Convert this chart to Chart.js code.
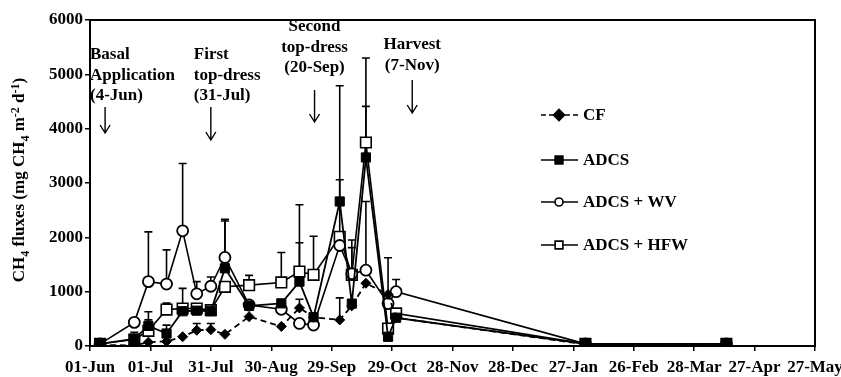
<!DOCTYPE html>
<html>
<head>
<meta charset="utf-8">
<script src="https://cdn.jsdelivr.net/npm/chart.js@4.4.1/dist/chart.umd.min.js"></script>
<style>
  html, body { margin: 0; padding: 0; background: #fff; }
  #wrap { width: 841px; height: 377px; }
</style>
</head>
<body>
<div id="wrap"><canvas id="fluxChart" width="841" height="377"></canvas></div>
<script>
// days since 01-Jun for each sampling
var sampleDays = [5, 22, 29, 38, 46, 53, 60, 67, 79, 95, 104, 111, 124, 130, 137, 148, 152, 246, 316];

var cfValues   = [20, 10, 70, 85, 170, 290, 300, 215, 540, 360, 700, 530, 480, 740, 1155, 950, 520, 30, 40];
var adcsValues = [40, 130, 370, 230, 640, 650, 640, 1430, 740, 785, 1185, 530, 2660, 780, 3470, 170, 520, 40, 40];
var wvValues   = [40, 435, 1185, 1140, 2120, 960, 1100, 1630, 755, 675, 415, 385, 1850, 1330, 1395, 780, 1000, 40, 40];
var hfwValues  = [40, 120, 280, 670, 690, 690, 660, 1090, 1120, 1170, 1370, 1310, 2010, 1310, 3745, 320, 600, 40, 40];

// top of the error bars (null = none drawn)
var cfErrTop   = [null, null, null, null, null, 415, 415, null, null, null, 860, null, 885, null, null, null, null, null, null];
var adcsErrTop = [null, null, 630, 385, null, null, null, 2300, null, null, 1900, null, 4790, null, 4410, null, null, null, null];
var wvErrTop   = [null, null, 2100, 1770, 3360, 1185, 1270, 2330, null, null, null, null, null, 1810, 2660, 1625, 1225, null, null];
var hfwErrTop  = [null, 250, 480, 790, 1060, null, null, null, 1300, 1720, 2600, 2020, 3060, 1950, 5300, null, null, null, null];

var tickLabels = ['01-Jun', '01-Jul', '31-Jul', '30-Aug', '29-Sep', '29-Oct', '28-Nov', '28-Dec', '27-Jan', '26-Feb', '28-Mar', '27-Apr', '27-May'];

var eventDays  = [7.5, 60, 111.5, 160];
var eventTexts = [
  ['Basal', 'Application', '(4-Jun)'],
  ['First', 'top-dress', '(31-Jul)'],
  ['Second', 'top-dress', '(20-Sep)'],
  ['Harvest', '(7-Nov)']
];

var seriesNames = ['CF', 'ADCS', 'ADCS + WV', 'ADCS + HFW'];

var FONT = "'Liberation Serif', 'Times New Roman', serif";

function toPoints(vals) {
  return vals.map(function(v, i) { return { x: sampleDays[i], y: v }; });
}

var errTops = [cfErrTop, adcsErrTop, wvErrTop, hfwErrTop];
var seriesValues = [cfValues, adcsValues, wvValues, hfwValues];

var extras = {
  id: 'extras',
  beforeDatasetsDraw: function(chart) {
    var ctx = chart.ctx, xs = chart.scales.x, ys = chart.scales.y;
    ctx.save();
    ctx.strokeStyle = '#000';
    ctx.lineWidth = 1.6;
    errTops.forEach(function(tops, s) {
      tops.forEach(function(top, j) {
        if (top == null) return;
        var x = xs.getPixelForValue(sampleDays[j]);
        var y0 = ys.getPixelForValue(seriesValues[s][j]);
        var y1 = ys.getPixelForValue(top);
        ctx.beginPath();
        ctx.moveTo(x, y0);
        ctx.lineTo(x, y1);
        ctx.moveTo(x - 4, y1);
        ctx.lineTo(x + 4, y1);
        ctx.stroke();
      });
    });
    ctx.restore();
  },
  afterDraw: function(chart) {
    var ctx = chart.ctx, a = chart.chartArea, xs = chart.scales.x;
    ctx.save();
    // box
    ctx.strokeStyle = '#000';
    ctx.lineWidth = 2;
    ctx.strokeRect(a.left, a.top, a.right - a.left, a.bottom - a.top);

    // event notes + arrows
    ctx.fillStyle = '#000';
    ctx.font = 'bold 17px ' + FONT;
    ctx.textBaseline = 'middle';
    var noteTop = [55, 55, 27, 45];
    var arrowSpan = [[107, 133], [107, 140], [90, 122], [80, 113]];
    eventTexts.forEach(function(lines, k) {
      var x = xs.getPixelForValue(eventDays[k]);
      lines.forEach(function(t, i) {
        if (k === 0) { ctx.textAlign = 'left'; ctx.fillText(t, a.left, noteTop[k] + i * 20.5); }
        else if (k === 1) { ctx.textAlign = 'left'; ctx.fillText(t, x - 17, noteTop[k] + i * 20.5); }
        else { ctx.textAlign = 'center'; ctx.fillText(t, x, noteTop[k] + i * 20.5); }
      });
      var y0 = arrowSpan[k][0], y1 = arrowSpan[k][1];
      ctx.lineWidth = 1.4;
      ctx.beginPath();
      ctx.moveTo(x, y0); ctx.lineTo(x, y1);
      ctx.moveTo(x - 5, y1 - 8); ctx.lineTo(x, y1); ctx.lineTo(x + 5, y1 - 8);
      ctx.stroke();
    });

    // legend
    var rows = [115, 160, 202, 245];
    chart.data.datasets.forEach(function(ds, i) {
      var y = rows[i];
      ctx.strokeStyle = '#000';
      ctx.lineWidth = 1.6;
      ctx.setLineDash(i === 0 ? [5, 3] : []);
      ctx.beginPath(); ctx.moveTo(541, y); ctx.lineTo(578, y); ctx.stroke();
      ctx.setLineDash([]);
      ctx.fillStyle = ds.pointBackgroundColor;
      Chart.helpers.drawPoint(ctx, {
        pointStyle: ds.pointStyle, radius: i === 2 ? 4 : 5.5, borderWidth: 1.6, rotation: 0
      }, 559, y);
      ctx.fillStyle = '#000';
      ctx.font = 'bold 17px ' + FONT;
      ctx.textAlign = 'left';
      ctx.textBaseline = 'middle';
      ctx.fillText(ds.label, 583, y + 1);
    });

    // y title with sub/superscripts
    var parts = [
      ['CH', 0], ['4', 1], [' fluxes (mg CH', 0], ['4', 1], [' m', 0], ['-2', -1], [' d', 0], ['-1', -1], [')', 0]
    ];
    var big = 'bold 17px ' + FONT, small = 'bold 12px ' + FONT;
    var total = 0;
    parts.forEach(function(p) { ctx.font = p[1] ? small : big; total += ctx.measureText(p[0]).width; });
    ctx.translate(19, 180);
    ctx.rotate(-Math.PI / 2);
    ctx.textAlign = 'left';
    ctx.textBaseline = 'alphabetic';
    var cx = -total / 2;
    parts.forEach(function(p) {
      ctx.font = p[1] ? small : big;
      var dy = p[1] === 1 ? 10 : (p[1] === -1 ? 0 : 5);
      ctx.fillText(p[0], cx, dy);
      cx += ctx.measureText(p[0]).width;
    });
    ctx.restore();
  }
};

var chart = new Chart(document.getElementById('fluxChart'), {
  type: 'line',
  data: {
    datasets: [{
      label: seriesNames[0],
      data: toPoints(cfValues),
      borderColor: '#000', borderWidth: 1.8, borderDash: [6, 4],
      pointStyle: 'rectRot', pointRadius: 5, pointBackgroundColor: '#000', pointBorderColor: '#000', pointBorderWidth: 1
    }, {
      label: seriesNames[1],
      data: toPoints(adcsValues),
      borderColor: '#000', borderWidth: 1.8,
      pointStyle: 'rect', pointRadius: 6.5, pointBackgroundColor: '#000', pointBorderColor: '#000', pointBorderWidth: 1
    }, {
      label: seriesNames[2],
      data: toPoints(wvValues),
      borderColor: '#000', borderWidth: 1.6,
      pointStyle: 'circle', pointRadius: 5.5, pointBackgroundColor: '#fff', pointBorderColor: '#000', pointBorderWidth: 1.8
    }, {
      label: seriesNames[3],
      data: toPoints(hfwValues),
      borderColor: '#000', borderWidth: 1.6,
      pointStyle: 'rect', pointRadius: 7.5, pointBackgroundColor: '#fff', pointBorderColor: '#000', pointBorderWidth: 1.6
    }]
  },
  options: {
    responsive: false,
    animation: false,
    devicePixelRatio: 1,
    layout: { padding: { top: 20, right: 26, left: 0, bottom: 0 } },
    plugins: { legend: { display: false }, tooltip: { enabled: false } },
    scales: {
      x: {
        type: 'linear', min: 0, max: 360,
        afterBuildTicks: function(s) { s.ticks = tickLabels.map(function(l, i) { return { value: i * 30 }; }); },
        afterFit: function(s) { s.height = 31; s.paddingLeft = 0; s.paddingRight = 0; },
        ticks: {
          autoSkip: false, maxRotation: 0, color: '#000', padding: 6,
          font: { family: FONT, weight: 'bold', size: 17 },
          callback: function(v, i) { return tickLabels[i]; }
        },
        grid: { drawOnChartArea: false, color: '#000', tickLength: 5, lineWidth: 1.5 },
        border: { color: '#000', width: 2 }
      },
      y: {
        min: 0, max: 6000,
        afterFit: function(s) { s.width = 90; },
        ticks: {
          stepSize: 1000, color: '#000', padding: 2,
          font: { family: FONT, weight: 'bold', size: 17 },
          callback: function(v) { return String(v); }
        },
        grid: { drawOnChartArea: false, color: '#000', tickLength: 5, lineWidth: 1.5 },
        border: { color: '#000', width: 2 }
      }
    }
  },
  plugins: [extras]
});
</script>
</body>
</html>
